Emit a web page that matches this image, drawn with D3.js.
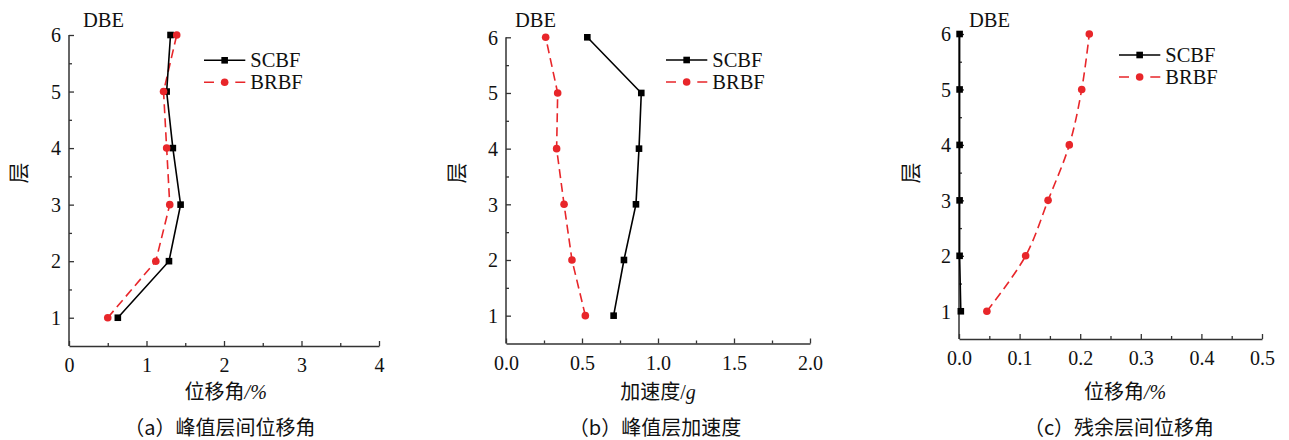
<!DOCTYPE html>
<html><head><meta charset="utf-8">
<script src="https://cdn.jsdelivr.net/npm/d3@7"></script>
<style>body{margin:0;background:#fff}</style>
</head><body>
<svg id="chart" width="1289" height="440"></svg>
<script>
// ---- data ----
const floors = [1, 2, 3, 4, 5, 6];
const seriesNames = ["SCBF", "BRBF"];
const driftSCBF = [0.63, 1.29, 1.44, 1.34, 1.26, 1.31];
const driftBRBF = [0.50, 1.12, 1.30, 1.26, 1.22, 1.39];
const accelSCBF = [0.708, 0.776, 0.855, 0.875, 0.890, 0.535];
const accelBRBF = [0.522, 0.434, 0.382, 0.333, 0.340, 0.261];
const residSCBF = [0.003, 0.001, 0.001, 0.001, 0.001, 0.001];
const residBRBF = [0.046, 0.110, 0.147, 0.182, 0.2025, 0.215];
const xTicksA = [0, 1, 2, 3, 4];
const xTicksB = [0, 0.5, 1.0, 1.5, 2.0];
const xTicksC = [0, 0.1, 0.2, 0.3, 0.4, 0.5];
const yTicks = [1, 2, 3, 4, 5, 6];
const yLabel = "层";
const caseLabel = "DBE";
const captions = ["（a）峰值层间位移角", "（b）峰值层加速度", "（c）残余层间位移角"];

// ---- layout ----
const svg = d3.select("#chart");
const LATIN = "Liberation Serif, Times New Roman, DejaVu Serif, serif";
const CJK = "Noto Sans CJK SC, Noto Sans, sans-serif";
const RED = "#e8262a";
const AXIS = "#333";

function txt(sel, family, size, style) {
  sel.attr("font-family", family).attr("font-size", size).attr("fill", "#111");
  if (style) sel.attr("font-style", style);
  return sel;
}

const panels = [
  {x0: 69, x1: 379, yTop: 35, yBot: 346, dom: [0, 4], ticks: xTicksA, minorStep: 0.5, fmt: d3.format("d"),
   s1: driftSCBF, s2: driftBRBF, curve: d3.curveLinear,
   leg: {x: 204, y: 60.3}, dbe: {x: 83, y: 27.3}, ylab: {x: 18, y: 173},
   xlab: {cx: 225.7, parts: [["位移角", CJK, "normal"], ["/%", LATIN, "italic"]]},
   cap: {cx: 220, text: captions[0]}},
  {x0: 506, x1: 810, yTop: 37.3, yBot: 343.5, dom: [0, 2], ticks: xTicksB, minorStep: 0.25, fmt: d3.format(".1f"),
   s1: accelSCBF, s2: accelBRBF, curve: d3.curveLinear,
   leg: {x: 666, y: 60}, dbe: {x: 515, y: 27.3}, ylab: {x: 456, y: 173},
   xlab: {cx: 658, parts: [["加速度", CJK, "normal"], ["/", LATIN, "normal"], ["g", LATIN, "italic"]]},
   cap: {cx: 655, text: captions[1]}},
  {x0: 959, x1: 1262, yTop: 34, yBot: 339, dom: [0, 0.5], ticks: xTicksC, minorStep: 0.05, fmt: d3.format(".1f"),
   s1: residSCBF, s2: residBRBF, curve: d3.curveCatmullRom,
   leg: {x: 1119, y: 55}, dbe: {x: 969, y: 26.7}, ylab: {x: 910, y: 173},
   xlab: {cx: 1125, parts: [["位移角", CJK, "normal"], ["/%", LATIN, "italic"]]},
   cap: {cx: 1119, text: captions[2]}}
];

panels.forEach(p => {
  const g = svg.append("g");
  const x = d3.scaleLinear().domain(p.dom).range([p.x0, p.x1]);
  const y = d3.scaleLinear().domain([0.5, 6]).range([p.yBot, p.yTop]);

  const minorX = d3.range(p.dom[0] + p.minorStep, p.dom[1], p.minorStep * 2);
  const minorY = [1.5, 2.5, 3.5, 4.5, 5.5];

  // x axis
  const xAxis = d3.axisBottom(x).tickValues(p.ticks).tickSize(-5).tickSizeOuter(0).tickFormat(p.fmt);
  const gx = g.append("g").attr("transform", `translate(0,${y(0.5)})`).call(xAxis);
  gx.attr("font-family", LATIN).attr("font-size", 20);
  gx.select(".domain").attr("stroke", AXIS).attr("stroke-width", 1.5);
  gx.selectAll(".tick line").attr("stroke", AXIS).attr("stroke-width", 1.3);
  txt(gx.selectAll(".tick text").attr("y", 12).attr("dy", "0.71em"), LATIN, 20);
  const gxm = g.append("g").attr("transform", `translate(0,${y(0.5)})`)
    .call(d3.axisBottom(x).tickValues(minorX).tickSize(-3).tickFormat(""));
  gxm.select(".domain").remove();
  gxm.selectAll(".tick line").attr("stroke", AXIS).attr("stroke-width", 1.3);

  // y axis
  const yAxis = d3.axisLeft(y).tickValues(yTicks).tickSize(-5).tickSizeOuter(0).tickFormat(d3.format("d"));
  const gy = g.append("g").attr("transform", `translate(${p.x0},0)`).call(yAxis);
  gy.attr("font-family", LATIN).attr("font-size", 20);
  gy.select(".domain").attr("d", `M0,${y(6)}V${y(0.5)}`).attr("stroke", AXIS).attr("stroke-width", 1.5);
  gy.selectAll(".tick line").attr("stroke", AXIS).attr("stroke-width", 1.3);
  txt(gy.selectAll(".tick text").attr("x", -8).attr("dy", "0.34em"), LATIN, 20);
  const gym = g.append("g").attr("transform", `translate(${p.x0},0)`)
    .call(d3.axisLeft(y).tickValues(minorY).tickSize(-3).tickFormat(""));
  gym.select(".domain").remove();
  gym.selectAll(".tick line").attr("stroke", AXIS).attr("stroke-width", 1.3);

  // series
  const d1 = floors.map((f, i) => ({f, v: p.s1[i]}));
  const d2 = floors.map((f, i) => ({f, v: p.s2[i]}));
  const line = d3.line().x(d => x(d.v)).y(d => y(d.f)).curve(p.curve);
  const lineLin = d3.line().x(d => x(d.v)).y(d => y(d.f));

  g.append("path").datum(d2).attr("d", line).attr("fill", "none")
    .attr("stroke", RED).attr("stroke-width", 1.6).attr("stroke-dasharray", "9,5");
  g.append("path").datum(d1).attr("d", lineLin).attr("fill", "none")
    .attr("stroke", "#000").attr("stroke-width", 1.6);
  g.selectAll(".sq").data(d1).enter().append("rect")
    .attr("x", d => x(d.v) - 3.3).attr("y", d => y(d.f) - 3.3)
    .attr("width", 6.6).attr("height", 6.6).attr("fill", "#000");
  g.selectAll(".ci").data(d2).enter().append("circle")
    .attr("cx", d => x(d.v)).attr("cy", d => y(d.f)).attr("r", 3.8).attr("fill", RED);

  // legend
  const L = 41.3;
  const lg = g.append("g").attr("transform", `translate(${p.leg.x},${p.leg.y})`);
  lg.append("line").attr("x1", 0).attr("x2", L).attr("y1", 0).attr("y2", 0)
    .attr("stroke", "#000").attr("stroke-width", 1.6);
  lg.append("rect").attr("x", L / 2 - 3.3).attr("y", -3.3).attr("width", 6.6).attr("height", 6.6).attr("fill", "#000");
  txt(lg.append("text").attr("x", L + 5).attr("y", 7).text(seriesNames[0]), LATIN, 20.5);
  lg.append("line").attr("x1", 0).attr("x2", L).attr("y1", 22).attr("y2", 22)
    .attr("stroke", RED).attr("stroke-width", 1.6).attr("stroke-dasharray", "10,21.3");
  lg.append("circle").attr("cx", L / 2).attr("cy", 22).attr("r", 3.8).attr("fill", RED);
  txt(lg.append("text").attr("x", L + 5).attr("y", 29).text(seriesNames[1]), LATIN, 20.5);

  // DBE
  txt(g.append("text").attr("x", p.dbe.x).attr("y", p.dbe.y).text(caseLabel), LATIN, 20.5);

  // y label
  txt(g.append("text").attr("transform", `translate(${p.ylab.x + 7.8},${p.ylab.y}) rotate(-90)`)
    .attr("text-anchor", "middle").text(yLabel), CJK, 21);

  // x label
  const xl = g.append("text").attr("x", p.xlab.cx).attr("y", 398.5).attr("text-anchor", "middle")
    .attr("fill", "#111").attr("font-size", 20);
  p.xlab.parts.forEach(([t, f, st]) => {
    xl.append("tspan").text(t).attr("font-family", f).attr("font-style", st).attr("font-size", 20);
  });

  // caption
  txt(g.append("text").attr("x", p.cap.cx).attr("y", 435).attr("text-anchor", "middle")
    .text(p.cap.text), CJK, 20);
});
</script>
</body></html>
